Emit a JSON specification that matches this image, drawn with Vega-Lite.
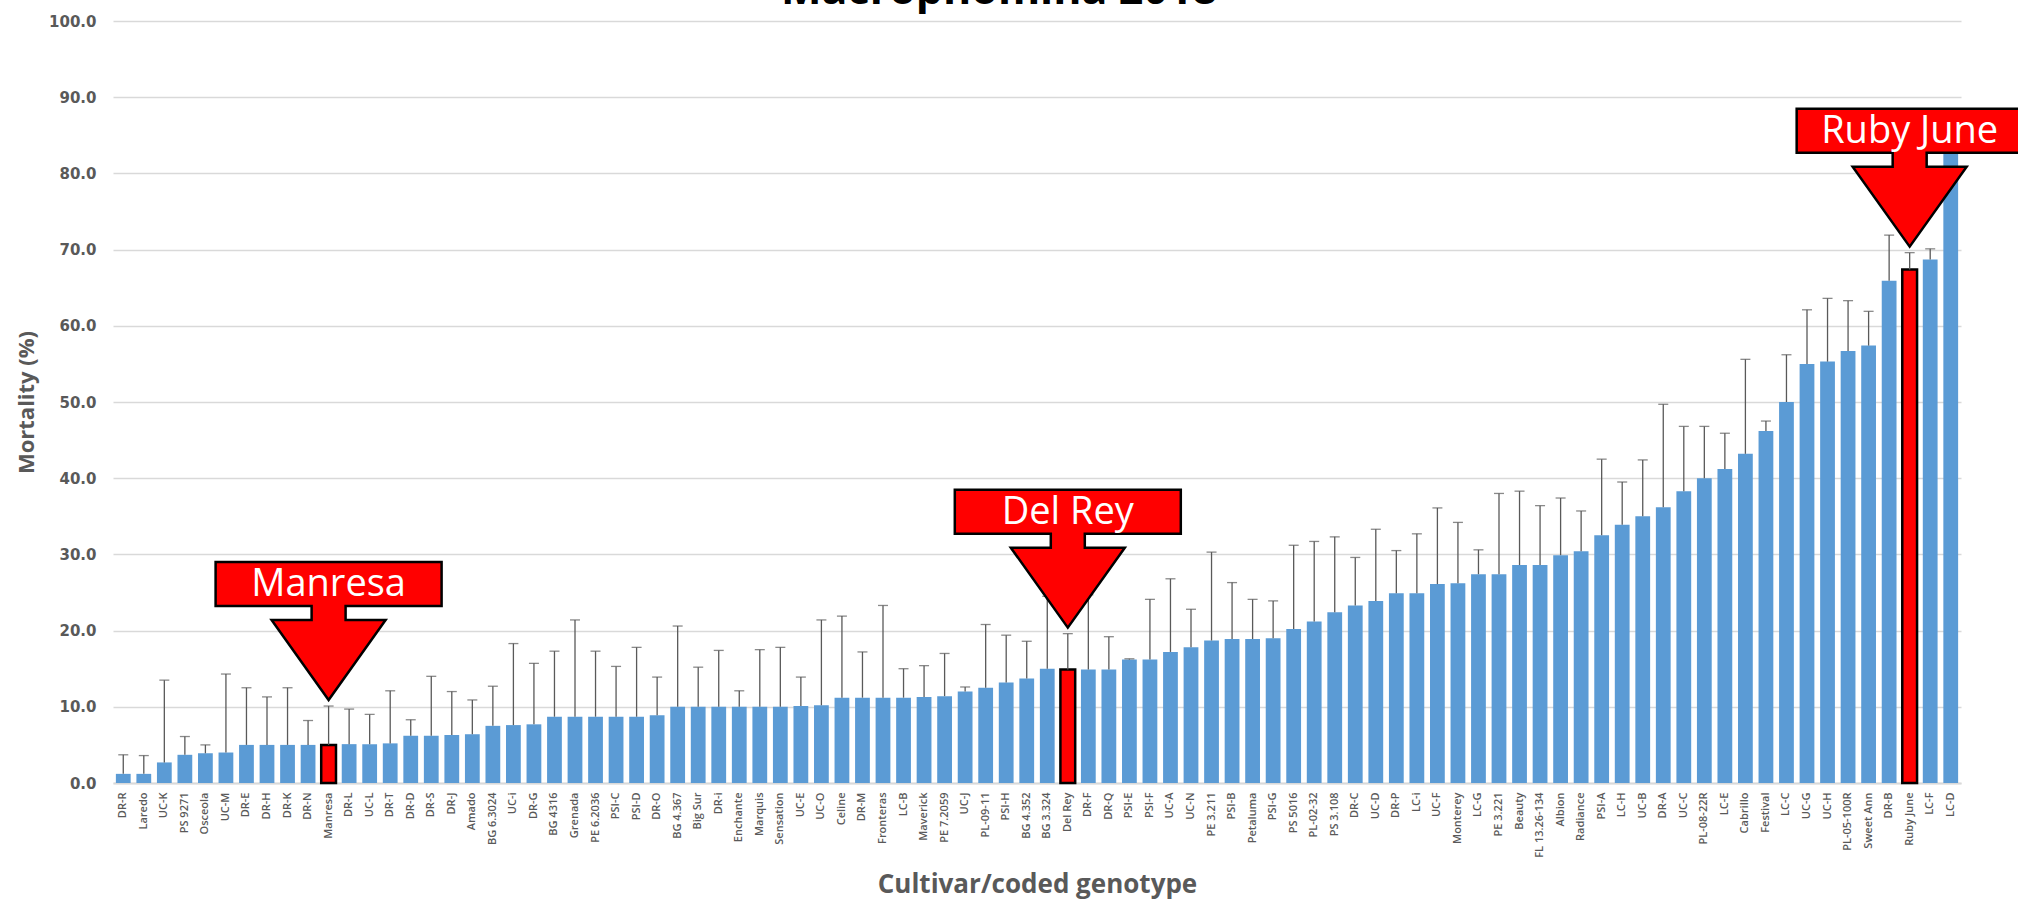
{
  "$schema": "https://vega.github.io/schema/vega-lite/v6.json",
  "autosize": "none",
  "width": 1848,
  "height": 762,
  "padding": {"left": 113, "top": 21, "right": 57, "bottom": 121},
  "background": "#ffffff",
  "title": {"text": "Macrophomina 2018", "fontSize": 43, "font": "Open Sans", "fontWeight": "bold", "color": "#000000", "anchor": "middle", "offset": -33, "baseline": "alphabetic", "dx": -38},
  "config": {"view": {"stroke": null}},
  "data": {"values": [
    {"cultivar": "DR-R", "mortality": 1.2, "upper": 3.7, "featured": false},
    {"cultivar": "Laredo", "mortality": 1.2, "upper": 3.6, "featured": false},
    {"cultivar": "UC-K", "mortality": 2.7, "upper": 13.5, "featured": false},
    {"cultivar": "PS 9271", "mortality": 3.7, "upper": 6.1, "featured": false},
    {"cultivar": "Osceola", "mortality": 3.9, "upper": 5.0, "featured": false},
    {"cultivar": "UC-M", "mortality": 4.0, "upper": 14.3, "featured": false},
    {"cultivar": "DR-E", "mortality": 5.0, "upper": 12.5, "featured": false},
    {"cultivar": "DR-H", "mortality": 5.0, "upper": 11.3, "featured": false},
    {"cultivar": "DR-K", "mortality": 5.0, "upper": 12.5, "featured": false},
    {"cultivar": "DR-N", "mortality": 5.0, "upper": 8.2, "featured": false},
    {"cultivar": "Manresa", "mortality": 5.0, "upper": 10.1, "featured": true},
    {"cultivar": "DR-L", "mortality": 5.1, "upper": 9.7, "featured": false},
    {"cultivar": "UC-L", "mortality": 5.1, "upper": 9.0, "featured": false},
    {"cultivar": "DR-T", "mortality": 5.2, "upper": 12.1, "featured": false},
    {"cultivar": "DR-D", "mortality": 6.2, "upper": 8.3, "featured": false},
    {"cultivar": "DR-S", "mortality": 6.2, "upper": 14.0, "featured": false},
    {"cultivar": "DR-J", "mortality": 6.3, "upper": 12.0, "featured": false},
    {"cultivar": "Amado", "mortality": 6.4, "upper": 10.9, "featured": false},
    {"cultivar": "BG 6.3024", "mortality": 7.5, "upper": 12.7, "featured": false},
    {"cultivar": "UC-i", "mortality": 7.6, "upper": 18.3, "featured": false},
    {"cultivar": "DR-G", "mortality": 7.7, "upper": 15.7, "featured": false},
    {"cultivar": "BG 4316", "mortality": 8.7, "upper": 17.3, "featured": false},
    {"cultivar": "Grenada", "mortality": 8.7, "upper": 21.4, "featured": false},
    {"cultivar": "PE 6.2036", "mortality": 8.7, "upper": 17.3, "featured": false},
    {"cultivar": "PSI-C", "mortality": 8.7, "upper": 15.3, "featured": false},
    {"cultivar": "PSI-D", "mortality": 8.7, "upper": 17.8, "featured": false},
    {"cultivar": "DR-O", "mortality": 8.9, "upper": 13.9, "featured": false},
    {"cultivar": "BG 4.367", "mortality": 10.0, "upper": 20.6, "featured": false},
    {"cultivar": "Big Sur", "mortality": 10.0, "upper": 15.2, "featured": false},
    {"cultivar": "DR-i", "mortality": 10.0, "upper": 17.4, "featured": false},
    {"cultivar": "Enchante", "mortality": 10.0, "upper": 12.1, "featured": false},
    {"cultivar": "Marquis", "mortality": 10.0, "upper": 17.5, "featured": false},
    {"cultivar": "Sensation", "mortality": 10.0, "upper": 17.8, "featured": false},
    {"cultivar": "UC-E", "mortality": 10.1, "upper": 13.9, "featured": false},
    {"cultivar": "UC-O", "mortality": 10.2, "upper": 21.4, "featured": false},
    {"cultivar": "Celine", "mortality": 11.2, "upper": 21.9, "featured": false},
    {"cultivar": "DR-M", "mortality": 11.2, "upper": 17.2, "featured": false},
    {"cultivar": "Fronteras", "mortality": 11.2, "upper": 23.3, "featured": false},
    {"cultivar": "LC-B", "mortality": 11.2, "upper": 15.0, "featured": false},
    {"cultivar": "Maverick", "mortality": 11.3, "upper": 15.4, "featured": false},
    {"cultivar": "PE 7.2059", "mortality": 11.4, "upper": 17.0, "featured": false},
    {"cultivar": "UC-J", "mortality": 12.0, "upper": 12.6, "featured": false},
    {"cultivar": "PL-09-11", "mortality": 12.5, "upper": 20.8, "featured": false},
    {"cultivar": "PSI-H", "mortality": 13.2, "upper": 19.4, "featured": false},
    {"cultivar": "BG 4.352", "mortality": 13.7, "upper": 18.6, "featured": false},
    {"cultivar": "BG 3.324", "mortality": 15.0, "upper": 24.5, "featured": false},
    {"cultivar": "Del Rey", "mortality": 14.9, "upper": 19.6, "featured": true},
    {"cultivar": "DR-F", "mortality": 14.9, "upper": 24.7, "featured": false},
    {"cultivar": "DR-Q", "mortality": 14.9, "upper": 19.2, "featured": false},
    {"cultivar": "PSI-E", "mortality": 16.2, "upper": 16.3, "featured": false},
    {"cultivar": "PSI-F", "mortality": 16.2, "upper": 24.1, "featured": false},
    {"cultivar": "UC-A", "mortality": 17.2, "upper": 26.8, "featured": false},
    {"cultivar": "UC-N", "mortality": 17.8, "upper": 22.8, "featured": false},
    {"cultivar": "PE 3.211", "mortality": 18.7, "upper": 30.3, "featured": false},
    {"cultivar": "PSI-B", "mortality": 18.9, "upper": 26.3, "featured": false},
    {"cultivar": "Petaluma", "mortality": 18.9, "upper": 24.1, "featured": false},
    {"cultivar": "PSI-G", "mortality": 19.0, "upper": 23.9, "featured": false},
    {"cultivar": "PS 5016", "mortality": 20.2, "upper": 31.2, "featured": false},
    {"cultivar": "PL-02-32", "mortality": 21.2, "upper": 31.7, "featured": false},
    {"cultivar": "PS 3.108", "mortality": 22.4, "upper": 32.3, "featured": false},
    {"cultivar": "DR-C", "mortality": 23.3, "upper": 29.6, "featured": false},
    {"cultivar": "UC-D", "mortality": 23.9, "upper": 33.3, "featured": false},
    {"cultivar": "DR-P", "mortality": 24.9, "upper": 30.5, "featured": false},
    {"cultivar": "LC-i", "mortality": 24.9, "upper": 32.7, "featured": false},
    {"cultivar": "UC-F", "mortality": 26.1, "upper": 36.1, "featured": false},
    {"cultivar": "Monterey", "mortality": 26.2, "upper": 34.2, "featured": false},
    {"cultivar": "LC-G", "mortality": 27.4, "upper": 30.6, "featured": false},
    {"cultivar": "PE 3.221", "mortality": 27.4, "upper": 38.0, "featured": false},
    {"cultivar": "Beauty", "mortality": 28.6, "upper": 38.3, "featured": false},
    {"cultivar": "FL 13.26-134", "mortality": 28.6, "upper": 36.4, "featured": false},
    {"cultivar": "Albion", "mortality": 29.9, "upper": 37.4, "featured": false},
    {"cultivar": "Radiance", "mortality": 30.4, "upper": 35.7, "featured": false},
    {"cultivar": "PSI-A", "mortality": 32.5, "upper": 42.5, "featured": false},
    {"cultivar": "LC-H", "mortality": 33.9, "upper": 39.5, "featured": false},
    {"cultivar": "UC-B", "mortality": 35.0, "upper": 42.4, "featured": false},
    {"cultivar": "DR-A", "mortality": 36.2, "upper": 49.7, "featured": false},
    {"cultivar": "UC-C", "mortality": 38.3, "upper": 46.8, "featured": false},
    {"cultivar": "PL-08-22R", "mortality": 40.0, "upper": 46.8, "featured": false},
    {"cultivar": "LC-E", "mortality": 41.2, "upper": 45.9, "featured": false},
    {"cultivar": "Cabrillo", "mortality": 43.2, "upper": 55.6, "featured": false},
    {"cultivar": "Festival", "mortality": 46.2, "upper": 47.5, "featured": false},
    {"cultivar": "LC-C", "mortality": 50.0, "upper": 56.2, "featured": false},
    {"cultivar": "UC-G", "mortality": 55.0, "upper": 62.1, "featured": false},
    {"cultivar": "UC-H", "mortality": 55.3, "upper": 63.6, "featured": false},
    {"cultivar": "PL-05-100R", "mortality": 56.7, "upper": 63.3, "featured": false},
    {"cultivar": "Sweet Ann", "mortality": 57.4, "upper": 61.9, "featured": false},
    {"cultivar": "DR-B", "mortality": 65.9, "upper": 71.9, "featured": false},
    {"cultivar": "Ruby June", "mortality": 67.4, "upper": 69.6, "featured": true},
    {"cultivar": "LC-F", "mortality": 68.7, "upper": 70.1, "featured": false},
    {"cultivar": "LC-D", "mortality": 85.0, "upper": 87.5, "featured": false}
  ]},
  "encoding": {
    "x": {
      "field": "cultivar", "type": "nominal", "sort": null,
      "scale": {"paddingInner": 0.28, "paddingOuter": 0.14},
      "axis": {
        "title": "Cultivar/coded genotype",
        "titleFont": "Open Sans", "titleFontSize": 26, "titleFontWeight": "bold", "titleColor": "#595959", "titlePadding": 14,
        "labelFont": "Open Sans", "labelFontSize": 11, "labelFontWeight": 600, "labelColor": "#595959", "labelAngle": -90,
        "labelPadding": 9, "labelOverlap": false, "labelLimit": 0,
        "ticks": false, "domainColor": "#D9D9D9", "domainWidth": 2, "grid": false
      }
    }
  },
  "layer": [
    {
      "mark": {"type": "bar", "strokeWidth": 2.5},
      "encoding": {
        "y": {
          "field": "mortality", "type": "quantitative",
          "scale": {"domain": [0, 100], "nice": false},
          "axis": {
            "title": "Mortality (%)",
            "titleFont": "Open Sans", "titleFontSize": 22, "titleFontWeight": "bold", "titleColor": "#595959", "titlePadding": 10,
            "values": [0, 10, 20, 30, 40, 50, 60, 70, 80, 90, 100], "format": ".1f",
            "labelFont": "DejaVu Sans", "labelFontSize": 15, "labelFontWeight": "bold", "labelColor": "#595959", "labelPadding": 17,
            "ticks": false, "domain": false, "grid": true, "gridColor": "#D9D9D9", "gridWidth": 1.3
          }
        },
        "fill": {"condition": {"test": "datum.featured", "value": "#FF0000"}, "value": "#5B9BD5"},
        "stroke": {"condition": {"test": "datum.featured", "value": "#000000"}, "value": null}
      }
    },
    {
      "mark": {"type": "rule", "color": "#595959", "strokeWidth": 1.3},
      "encoding": {
        "y": {"field": "mortality", "type": "quantitative"},
        "y2": {"field": "upper"}
      }
    },
    {
      "mark": {"type": "tick", "color": "#595959", "size": 10, "thickness": 1.3},
      "encoding": {
        "y": {"field": "upper", "type": "quantitative"}
      }
    },
    {
      "transform": [{"filter": "datum.featured"}],
      "mark": {
        "type": "point", "filled": true, "opacity": 1, "fillOpacity": 1, "size": 4,
        "shape": "M 0 -6 L -57 -86 L -17 -86 L -17 -100 L -113 -100 L -113 -144 L 113 -144 L 113 -100 L 17 -100 L 17 -86 L 57 -86 Z",
        "fill": "#FF0000", "stroke": "#000000", "strokeWidth": 2.5, "strokeJoin": "miter"
      },
      "encoding": {
        "y": {"field": "upper", "type": "quantitative"}
      }
    },
    {
      "transform": [{"filter": "datum.featured"}],
      "mark": {"type": "text", "font": "Open Sans", "fontSize": 38, "color": "#FFFFFF", "baseline": "middle", "align": "center", "dy": -121},
      "encoding": {
        "y": {"field": "upper", "type": "quantitative"},
        "text": {"field": "cultivar"}
      }
    }
  ]
}
